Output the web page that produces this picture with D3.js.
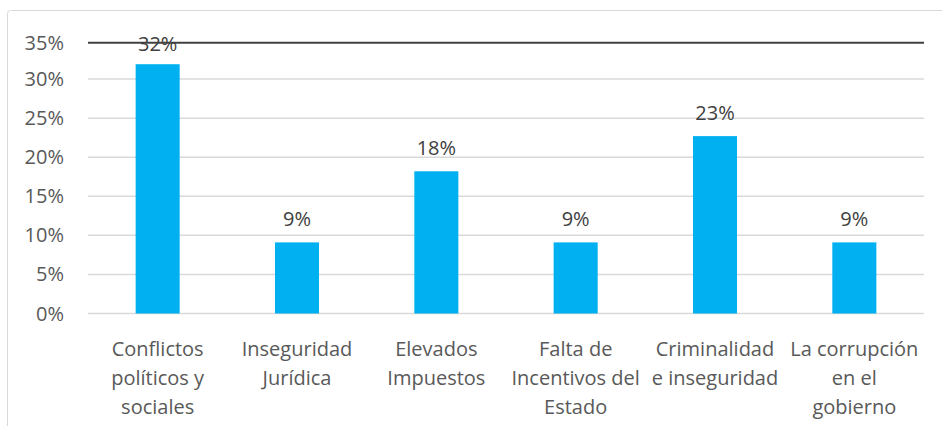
<!DOCTYPE html>
<html>
<head>
<meta charset="utf-8">
<script src="https://d3js.org/d3.v7.min.js"></script>
<style>
  body { margin: 0; background: #fff; }
  svg { display: block; }
</style>
</head>
<body>
<div id="chart"></div>
<script>
// Datos del gráfico
const categories = [
  "Conflictos políticos y sociales",
  "Inseguridad Jurídica",
  "Elevados Impuestos",
  "Falta de Incentivos del Estado",
  "Criminalidad e inseguridad",
  "La corrupción en el gobierno"
];
// Etiquetas partidas en líneas como en el original
const categoryLines = [
  ["Conflictos", "políticos y", "sociales"],
  ["Inseguridad", "Jurídica"],
  ["Elevados", "Impuestos"],
  ["Falta de", "Incentivos del", "Estado"],
  ["Criminalidad", "e inseguridad"],
  ["La corrupción", "en el", "gobierno"]
];
const values = [31.9, 9.1, 18.2, 9.1, 22.7, 9.1];
const yTicks = [0, 5, 10, 15, 20, 25, 30, 35];

const width = 942, height = 426;
const font = "'Open Sans', sans-serif";
const textColor = "#595959";

const svg = d3.select("#chart")
  .append("svg")
  .attr("width", width)
  .attr("height", height);

// Marco del área del gráfico
svg.append("rect")
  .attr("x", 7.5)
  .attr("y", 10.5)
  .attr("width", 960)
  .attr("height", 500)
  .attr("rx", 3)
  .attr("fill", "none")
  .attr("stroke", "#d9d9d9")
  .attr("stroke-width", 1);

// Escalas
const x = d3.scaleBand()
  .domain(categories)
  .range([88, 924])
  .padding(0);

const y = d3.scaleLinear()
  .domain([0, 35])
  .range([313.5, 40]);

// La línea superior (35%) coincide con el borde del área de trazado
const plotTop = y(35) + 2.7;
const tickY = d => d === 35 ? plotTop : y(d);

const barWidth = x.bandwidth() * 0.316;

// Líneas de cuadrícula
svg.append("g")
  .selectAll("line")
  .data(yTicks)
  .enter().append("line")
  .attr("x1", 88)
  .attr("x2", 924)
  .attr("y1", d => tickY(d))
  .attr("y2", d => tickY(d))
  .attr("stroke", d => d === 35 ? "#404040" : "#d9d9d9")
  .attr("stroke-width", d => d === 35 ? 2 : 1.5);

// Eje Y (etiquetas)
svg.append("g")
  .selectAll("text")
  .data(yTicks)
  .enter().append("text")
  .attr("x", 64)
  .attr("y", d => tickY(d))
  .attr("dy", "0.35em")
  .attr("text-anchor", "end")
  .attr("font-family", font)
  .attr("font-size", 20)
  .attr("fill", textColor)
  .text(d => d + "%");

// Barras
svg.append("g")
  .selectAll("rect")
  .data(values)
  .enter().append("rect")
  .attr("x", (d, i) => x(categories[i]) + (x.bandwidth() - barWidth) / 2)
  .attr("y", d => y(d))
  .attr("width", barWidth)
  .attr("height", d => y(0) - y(d))
  .attr("fill", "#00b0f0");

// Etiquetas de valores
svg.append("g")
  .selectAll("text")
  .data(values)
  .enter().append("text")
  .attr("x", (d, i) => x(categories[i]) + x.bandwidth() / 2)
  .attr("y", d => Math.max(plotTop + 8, y(d) - 16))
  .attr("text-anchor", "middle")
  .attr("font-family", font)
  .attr("font-size", 20)
  .attr("fill", "#404040")
  .text(d => Math.round(d) + "%");

// Etiquetas de categorías
const catG = svg.append("g");
categories.forEach((c, i) => {
  const cx = x(c) + x.bandwidth() / 2;
  const t = catG.append("text")
    .attr("x", cx)
    .attr("y", 356)
    .attr("text-anchor", "middle")
    .attr("font-family", font)
    .attr("font-size", 20)
    .attr("fill", textColor);
  categoryLines[i].forEach((line, j) => {
    t.append("tspan")
      .attr("x", cx)
      .attr("dy", j === 0 ? 0 : 29)
      .text(line);
  });
});
</script>
</body>
</html>
